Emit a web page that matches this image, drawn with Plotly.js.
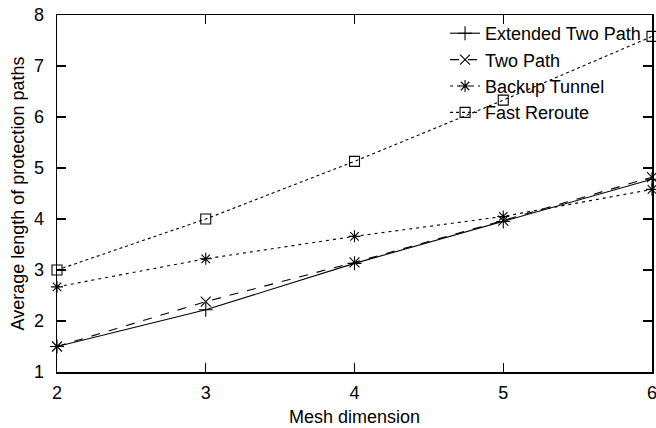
<!DOCTYPE html>
<html>
<head>
<meta charset="utf-8">
<script src="https://cdn.plot.ly/plotly-3.0.1.min.js"></script>
<style>html,body{margin:0;padding:0;background:#fff;}#chart{width:656px;height:428px;}</style>
</head>
<body>
<div id="chart"></div>
<script>
const meshDimension = [2, 3, 4, 5, 6];
const extendedTwoPath = [1.50, 2.22, 3.13, 3.95, 4.78];
const twoPath = [1.50, 2.38, 3.15, 3.97, 4.82];
const backupTunnel = [2.67, 3.22, 3.66, 4.05, 4.58];
const fastReroute = [3.00, 4.00, 5.13, 6.33, 7.58];
const seriesNames = ["Extended Two Path", "Two Path", "Backup Tunnel", "Fast Reroute"];
const xTicks = [2, 3, 4, 5, 6];
const yTicks = [1, 2, 3, 4, 5, 6, 7, 8];

const FONT = "Liberation Sans, Arial, Helvetica, sans-serif";
const FS = 18;

function tr(name, y, dash, symbol) {
  return {
    type: "scatter", mode: "lines+markers", name: name,
    x: meshDimension, y: y,
    line: {color: "#000", width: 1.1, dash: dash},
    marker: {symbol: symbol, size: 10, color: "#000", line: {color: "#000", width: 1.1}},
    cliponaxis: false
  };
}

const data = [
  tr(seriesNames[0], extendedTwoPath, "solid", "cross-thin-open"),
  tr(seriesNames[1], twoPath, "dash", "x-thin-open"),
  tr(seriesNames[2], backupTunnel, "3px,4px", "asterisk-open"),
  tr(seriesNames[3], fastReroute, "dot", "square-open")
];

const axisCommon = {
  showgrid: false, zeroline: false,
  showline: true, linecolor: "#000", linewidth: 1.5, mirror: "ticks",
  ticks: "inside", ticklen: 9, tickwidth: 1.2, tickcolor: "#000",
  ticklabeloverflow: "allow",
  tickfont: {family: FONT, size: FS, color: "#000"}
};

const layout = {
  width: 656, height: 428,
  margin: {l: 57, r: 4, t: 15, b: 56},
  paper_bgcolor: "#fff", plot_bgcolor: "#fff",
  font: {family: FONT, size: FS, color: "#000"},
  showlegend: true,
  legend: {
    x: 0.99, xanchor: "right", y: 1.0, yanchor: "top",
    bgcolor: "rgba(0,0,0,0)", borderwidth: 0,
    font: {family: FONT, size: FS, color: "#000"},
    tracegroupgap: 0
  },
  xaxis: Object.assign({}, axisCommon, {
    range: [2, 6], tickvals: xTicks, ticklabelstandoff: 4,
    title: {text: "Mesh dimension", font: {family: FONT, size: FS, color: "#000"}, standoff: 8}
  }),
  yaxis: Object.assign({}, axisCommon, {
    range: [1, 8], tickvals: yTicks, ticklabelstandoff: 8,
    title: {text: "Average length of protection paths", font: {family: FONT, size: FS, color: "#000"}, standoff: 4}
  })
};

Plotly.newPlot("chart", data, layout, {displayModeBar: false, staticPlot: true});
</script>
</body>
</html>
